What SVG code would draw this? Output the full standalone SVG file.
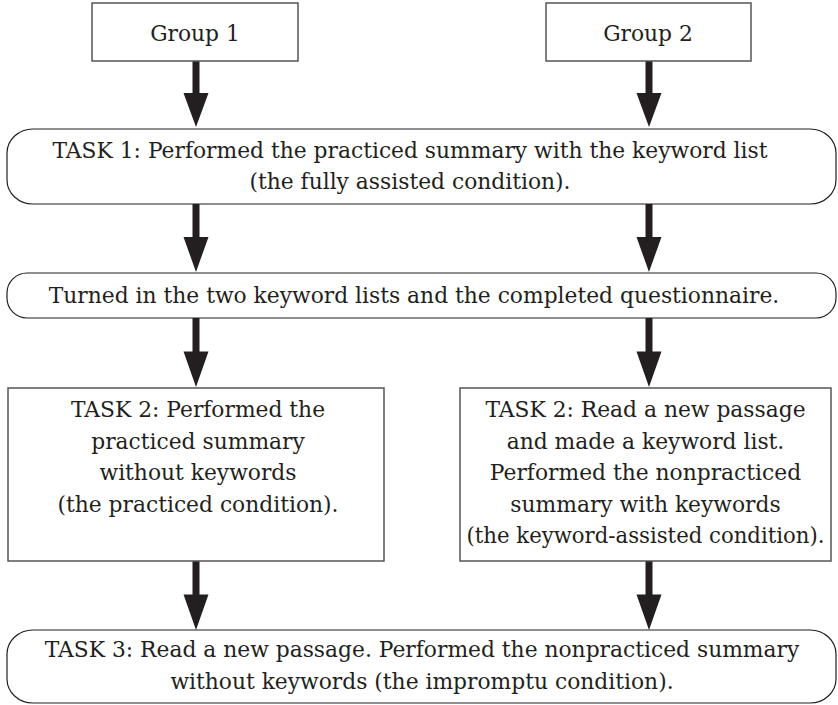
<svg xmlns="http://www.w3.org/2000/svg" width="838" height="705" viewBox="0 0 838 705">
<style>
.box{fill:#fff;stroke:#555;stroke-width:1.5}
.rbox{fill:#fff;stroke:#231f20;stroke-width:1.2}
text{font-family:"DejaVu Serif","Liberation Serif",serif;font-size:21.8px;fill:#231f20;text-anchor:middle}
.arr{fill:#231f20}
</style>
<defs>
<path id="ar" d="M-3.5,0 H3.5 V32 H12.5 L0,66 L-12.5,32 H-3.5 Z"/>
</defs>
<g id="connectors" class="arr">
<use href="#ar" transform="translate(196,61)"/>
<use href="#ar" transform="translate(649,61)"/>
<use href="#ar" transform="translate(196,204) scale(1,1.03)"/>
<use href="#ar" transform="translate(649,204) scale(1,1.03)"/>
<use href="#ar" transform="translate(196,318) scale(1,1.045)"/>
<use href="#ar" transform="translate(649,318) scale(1,1.045)"/>
<use href="#ar" transform="translate(196,561) scale(1,1.045)"/>
<use href="#ar" transform="translate(649,561) scale(1,1.045)"/>
</g>
<g id="group1">
<rect class="box" x="92" y="3" width="206" height="58"/>
<text x="195" y="41">Group 1</text>
</g>
<g id="group2">
<rect class="box" x="546" y="3" width="205" height="58"/>
<text x="648" y="41">Group 2</text>
</g>
<g id="task1">
<rect class="rbox" x="7" y="129" width="829" height="75" rx="26" ry="24"/>
<text x="410" y="158">TASK 1: Performed the practiced summary with the keyword list</text>
<text x="410" y="189">(the fully assisted condition).</text>
</g>
<g id="turnedin">
<rect class="rbox" x="7" y="273" width="829" height="45" rx="20" ry="20"/>
<text x="414" y="303">Turned in the two keyword lists and the completed questionnaire.</text>
</g>
<g id="task2a">
<rect class="box" x="8" y="388" width="376" height="173"/>
<text x="198" y="417">TASK 2: Performed the</text>
<text x="198" y="448.5">practiced summary</text>
<text x="198" y="480">without keywords</text>
<text x="198" y="511.5">(the practiced condition).</text>
</g>
<g id="task2b">
<rect class="box" x="460" y="388" width="371" height="173"/>
<text x="645.5" y="417">TASK 2: Read a new passage</text>
<text x="645.5" y="448.5">and made a keyword list.</text>
<text x="645.5" y="480">Performed the nonpracticed</text>
<text x="645.5" y="511.5">summary with keywords</text>
<text x="645.5" y="543" textLength="358" lengthAdjust="spacingAndGlyphs">(the keyword-assisted condition).</text>
</g>
<g id="task3">
<rect class="rbox" x="7" y="630" width="829" height="73" rx="26" ry="24"/>
<text x="422" y="657">TASK 3: Read a new passage. Performed the nonpracticed summary</text>
<text x="422" y="689">without keywords (the impromptu condition).</text>
</g>
</svg>
